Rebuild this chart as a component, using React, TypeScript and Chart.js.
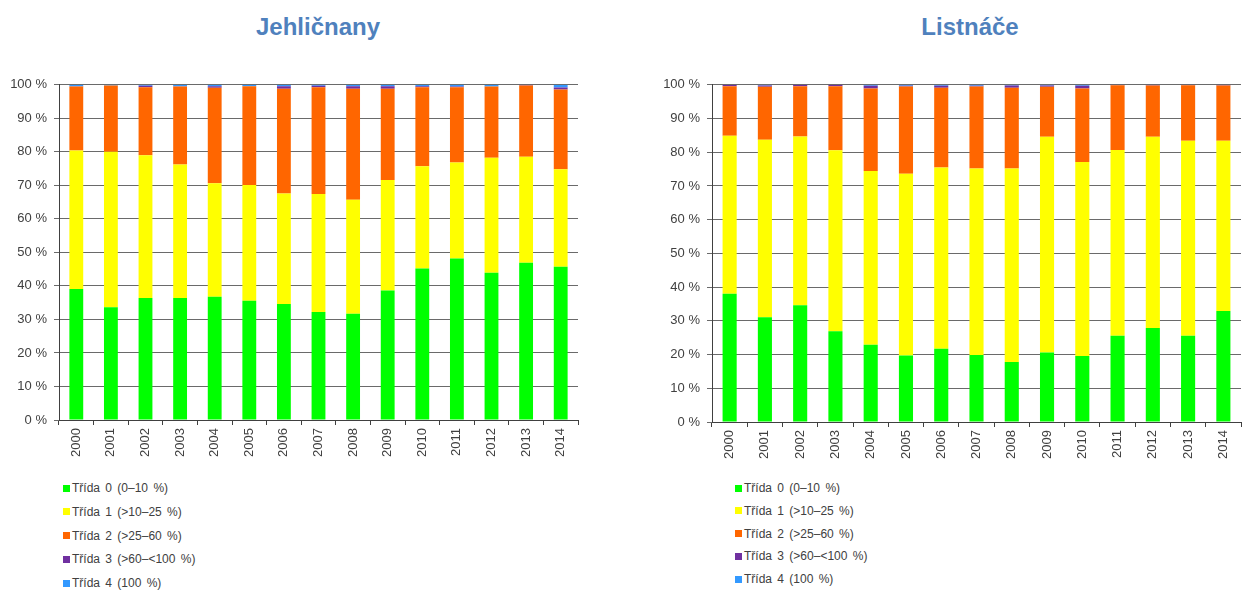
import React, { useEffect, useRef } from "react";
import { Chart, registerables } from "chart.js";

Chart.register(...registerables);

const years = ["2000","2001","2002","2003","2004","2005","2006","2007","2008","2009","2010","2011","2012","2013","2014"];

const classLabels = [
  "Třída 0 (0–10 %)",
  "Třída 1 (>10–25 %)",
  "Třída 2 (>25–60 %)",
  "Třída 3 (>60–<100 %)",
  "Třída 4 (100 %)",
];
const classColors = ["#00FF00", "#FFFF00", "#FF6600", "#7030A0", "#3399FF"];

// Jehličnany (conifers)
const jehl0 = [39.1, 33.6, 36.4, 36.4, 36.8, 35.6, 34.6, 32.2, 31.7, 38.6, 45.2, 48.2, 43.9, 46.9, 45.7];
const jehl1 = [41.3, 46.4, 42.6, 39.8, 33.8, 34.5, 33.0, 35.2, 34.0, 33.0, 30.5, 28.6, 34.3, 31.6, 29.1];
const jehl2 = [19.1, 19.8, 20.3, 23.3, 28.5, 29.5, 31.2, 31.9, 33.1, 27.2, 23.6, 22.5, 21.3, 21.3, 23.8];
const jehl3 = [0.1, 0.0, 0.4, 0.1, 0.5, 0.0, 0.8, 0.4, 0.8, 0.8, 0.3, 0.2, 0.0, 0.2, 0.6];
const jehl4 = [0.4, 0.2, 0.3, 0.4, 0.4, 0.4, 0.4, 0.3, 0.4, 0.4, 0.4, 0.5, 0.5, 0.0, 0.8];

// Listnáče (broadleaves)
const list0 = [38.0, 31.1, 34.6, 26.9, 22.9, 19.7, 21.7, 19.9, 17.8, 20.6, 19.6, 25.6, 27.9, 25.6, 32.9];
const list1 = [46.9, 52.6, 50.1, 53.7, 51.5, 53.9, 53.8, 55.3, 57.4, 64.0, 57.5, 55.1, 56.7, 57.8, 50.5];
const list2 = [14.7, 15.7, 14.9, 19.0, 24.5, 25.9, 23.6, 24.3, 23.9, 14.8, 21.8, 19.2, 15.2, 16.5, 16.4];
const list3 = [0.4, 0.4, 0.4, 0.4, 0.8, 0.2, 0.6, 0.2, 0.7, 0.4, 0.8, 0.1, 0.2, 0.1, 0.2];
const list4 = [0.0, 0.2, 0.0, 0.0, 0.3, 0.3, 0.3, 0.3, 0.2, 0.2, 0.3, 0.0, 0.0, 0.0, 0.0];

const yTicks = [0, 10, 20, 30, 40, 50, 60, 70, 80, 90, 100];

const FONT = "'Liberation Sans', Arial, Helvetica, sans-serif";

type ChartBoxProps = {
  series: number[][];
  left: number;
  top: number;
  width: number;
  height: number;
  yWidth: number;
  xHeight: number;
  padTop: number;
  padRight: number;
};

function ChartBox(p: ChartBoxProps) {
  const ref = useRef<HTMLCanvasElement | null>(null);
  useEffect(() => {
    if (!ref.current) return;
    const chart = new Chart(ref.current, {
      type: "bar",
      data: {
        labels: years,
        datasets: p.series.map((d, i) => ({
          label: classLabels[i],
          data: d,
          backgroundColor: classColors[i],
          borderWidth: 0,
          categoryPercentage: 1,
          barPercentage: 0.4,
        })),
      },
      options: {
        animation: false,
        responsive: true,
        maintainAspectRatio: false,
        layout: { padding: { top: p.padTop, right: p.padRight, left: 0, bottom: 0 } },
        plugins: {
          legend: { display: false },
          tooltip: { enabled: false },
          title: { display: false },
        },
        scales: {
          x: {
            stacked: true,
            grid: {
              offset: true,
              drawOnChartArea: false,
              drawTicks: true,
              tickLength: 5,
              color: "#404040",
            },
            border: { display: true, color: "#404040", width: 1 },
            ticks: {
              minRotation: 90,
              maxRotation: 90,
              padding: 3,
              color: "#404040",
              font: { family: FONT, size: 13 },
              autoSkip: false,
            },
            afterFit: (s: any) => {
              s.height = p.xHeight;
            },
          },
          y: {
            stacked: true,
            min: 0,
            max: 100,
            afterBuildTicks: (s: any) => {
              s.ticks = yTicks.map((v) => ({ value: v }));
            },
            grid: {
              color: "#6a6a6a",
              tickLength: 5,
              drawTicks: true,
            },
            border: { display: true, color: "#404040", width: 1 },
            ticks: {
              padding: 7,
              color: "#404040",
              font: { family: FONT, size: 13 },
              callback: (v: any) => v + " %",
            },
            afterFit: (s: any) => {
              s.width = p.yWidth;
            },
          },
        },
      },
    });
    return () => chart.destroy();
  }, []);
  return (
    <div
      style={{
        position: "absolute",
        left: p.left,
        top: p.top,
        width: p.width,
        height: p.height,
      }}
    >
      <canvas ref={ref} />
    </div>
  );
}

function Title({ text, cx }: { text: string; cx: number }) {
  return (
    <div
      style={{
        position: "absolute",
        left: cx - 150,
        width: 300,
        top: 13,
        lineHeight: "28px",
        textAlign: "center",
        fontFamily: FONT,
        fontWeight: "bold",
        fontSize: 24,
        color: "#4F81BD",
        whiteSpace: "nowrap",
      }}
    >
      {text}
    </div>
  );
}

function Legend({ left, top, step }: { left: number; top: number; step: number }) {
  return (
    <>
      {classLabels.map((lab, i) => (
        <div
          key={lab}
          style={{
            position: "absolute",
            left,
            top: top + i * step - 8,
            height: 16,
            lineHeight: "16px",
            display: "flex",
            alignItems: "center",
            fontFamily: FONT,
            fontSize: 12,
            color: "#404040",
            whiteSpace: "nowrap",
            wordSpacing: 2,
          }}
        >
          <span
            style={{
              display: "inline-block",
              width: 7,
              height: 7,
              background: classColors[i],
              marginRight: 2,
            }}
          />
          <span>{lab}</span>
        </div>
      ))}
    </>
  );
}

export default function App() {
  return (
    <div
      style={{
        position: "absolute",
        left: 0,
        top: 0,
        width: 1243,
        height: 590,
        background: "#ffffff",
        overflow: "hidden",
      }}
    >
      <Title text="Jehličnany" cx={318} />
      <Title text="Listnáče" cx={970} />
      <ChartBox
        series={[jehl0, jehl1, jehl2, jehl3, jehl4]}
        left={0}
        top={70}
        width={600}
        height={400}
        yWidth={59}
        xHeight={50}
        padTop={13}
        padRight={22}
      />
      <ChartBox
        series={[list0, list1, list2, list3, list4]}
        left={640}
        top={70}
        width={603}
        height={400}
        yWidth={72}
        xHeight={48}
        padTop={14}
        padRight={2}
      />
      <Legend left={63} top={488} step={23.8} />
      <Legend left={735} top={488} step={22.8} />
    </div>
  );
}
